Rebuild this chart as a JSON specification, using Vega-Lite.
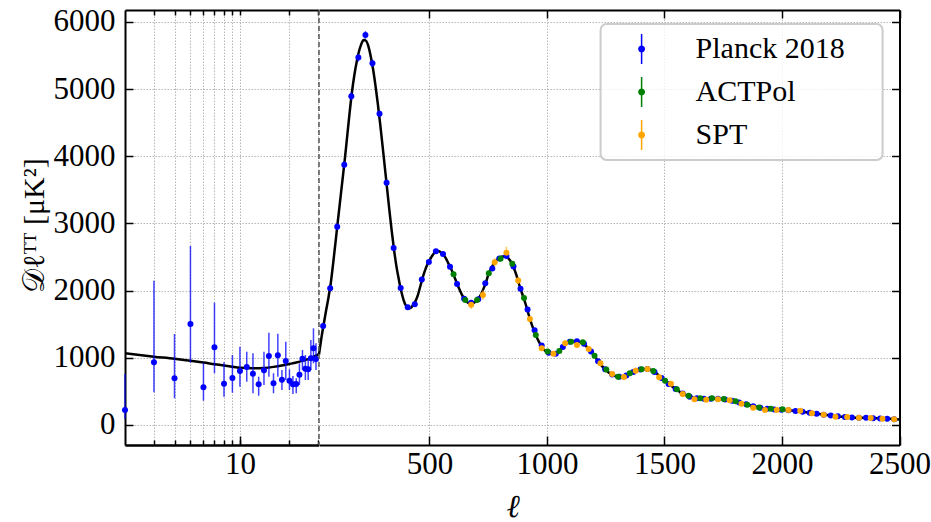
{
  "$schema": "https://vega.github.io/schema/vega-lite/v6.json",
  "background": "white",
  "padding": {"left": 19, "top": 5, "right": 5, "bottom": 12},
  "datasets": {
    "thlo": [
      {"l": 2, "d": 1067}, {"l": 3, "d": 1017}, {"l": 4, "d": 985}, {"l": 5, "d": 955}, {"l": 6, "d": 930},
      {"l": 7, "d": 905}, {"l": 8, "d": 885}, {"l": 9, "d": 866}, {"l": 10, "d": 852}, {"l": 12, "d": 845},
      {"l": 14, "d": 850}, {"l": 16, "d": 865}, {"l": 18, "d": 885}, {"l": 20, "d": 908}, {"l": 22, "d": 930},
      {"l": 24, "d": 955}, {"l": 26, "d": 980}, {"l": 28, "d": 1012}, {"l": 30, "d": 1050}
    ],
    "thhi": [
      {"l": 30, "d": 1050}, {"l": 40, "d": 1290}, {"l": 50, "d": 1500}, {"l": 60, "d": 1700}, {"l": 70, "d": 1890},
      {"l": 80, "d": 2110}, {"l": 90, "d": 2400}, {"l": 100, "d": 2710}, {"l": 110, "d": 3030}, {"l": 120, "d": 3340},
      {"l": 130, "d": 3650}, {"l": 140, "d": 3960}, {"l": 150, "d": 4300}, {"l": 160, "d": 4640}, {"l": 170, "d": 4950},
      {"l": 180, "d": 5200}, {"l": 190, "d": 5400}, {"l": 200, "d": 5560}, {"l": 210, "d": 5670}, {"l": 220, "d": 5730},
      {"l": 230, "d": 5720}, {"l": 240, "d": 5640}, {"l": 250, "d": 5490}, {"l": 260, "d": 5300}, {"l": 270, "d": 5060},
      {"l": 280, "d": 4790}, {"l": 290, "d": 4490}, {"l": 300, "d": 4170}, {"l": 310, "d": 3840}, {"l": 320, "d": 3510},
      {"l": 330, "d": 3180}, {"l": 340, "d": 2870}, {"l": 350, "d": 2590}, {"l": 360, "d": 2350}, {"l": 370, "d": 2160},
      {"l": 380, "d": 1990}, {"l": 390, "d": 1860}, {"l": 400, "d": 1775}, {"l": 410, "d": 1737}, {"l": 420, "d": 1745},
      {"l": 430, "d": 1785}, {"l": 440, "d": 1840}, {"l": 450, "d": 1925}, {"l": 460, "d": 2050}, {"l": 470, "d": 2180},
      {"l": 480, "d": 2290}, {"l": 490, "d": 2380}, {"l": 500, "d": 2450}, {"l": 510, "d": 2510}, {"l": 520, "d": 2560},
      {"l": 530, "d": 2585}, {"l": 540, "d": 2585}, {"l": 550, "d": 2565}, {"l": 560, "d": 2530}, {"l": 570, "d": 2480},
      {"l": 580, "d": 2410}, {"l": 590, "d": 2340}, {"l": 600, "d": 2260}, {"l": 610, "d": 2170}, {"l": 620, "d": 2080},
      {"l": 630, "d": 2000}, {"l": 640, "d": 1925}, {"l": 650, "d": 1870}, {"l": 660, "d": 1830}, {"l": 670, "d": 1810},
      {"l": 680, "d": 1805}, {"l": 690, "d": 1820}, {"l": 700, "d": 1850}, {"l": 710, "d": 1890}, {"l": 720, "d": 1950},
      {"l": 730, "d": 2030}, {"l": 740, "d": 2120}, {"l": 750, "d": 2230}, {"l": 760, "d": 2310}, {"l": 770, "d": 2380},
      {"l": 780, "d": 2430}, {"l": 790, "d": 2470}, {"l": 800, "d": 2495}, {"l": 810, "d": 2510}, {"l": 820, "d": 2510},
      {"l": 830, "d": 2500}, {"l": 840, "d": 2465}, {"l": 850, "d": 2410}, {"l": 860, "d": 2330}, {"l": 870, "d": 2230},
      {"l": 880, "d": 2110}, {"l": 890, "d": 2000}, {"l": 900, "d": 1900}, {"l": 910, "d": 1790}, {"l": 920, "d": 1670},
      {"l": 930, "d": 1550}, {"l": 940, "d": 1450}, {"l": 950, "d": 1360}, {"l": 960, "d": 1280}, {"l": 970, "d": 1210},
      {"l": 980, "d": 1150}, {"l": 990, "d": 1110}, {"l": 1000, "d": 1090}, {"l": 1010, "d": 1070}, {"l": 1020, "d": 1060},
      {"l": 1030, "d": 1062}, {"l": 1040, "d": 1075}, {"l": 1050, "d": 1095}, {"l": 1060, "d": 1130}, {"l": 1070, "d": 1170},
      {"l": 1080, "d": 1205}, {"l": 1090, "d": 1228}, {"l": 1100, "d": 1240}, {"l": 1120, "d": 1245}, {"l": 1140, "d": 1235},
      {"l": 1150, "d": 1225}, {"l": 1160, "d": 1200}, {"l": 1170, "d": 1160}, {"l": 1180, "d": 1120}, {"l": 1190, "d": 1085},
      {"l": 1200, "d": 1040}, {"l": 1210, "d": 990}, {"l": 1220, "d": 940}, {"l": 1230, "d": 895}, {"l": 1240, "d": 855},
      {"l": 1250, "d": 820}, {"l": 1260, "d": 790}, {"l": 1270, "d": 765}, {"l": 1280, "d": 745}, {"l": 1290, "d": 730},
      {"l": 1300, "d": 720}, {"l": 1310, "d": 715}, {"l": 1320, "d": 715}, {"l": 1330, "d": 720}, {"l": 1340, "d": 735},
      {"l": 1350, "d": 755}, {"l": 1360, "d": 775}, {"l": 1370, "d": 795}, {"l": 1380, "d": 810}, {"l": 1390, "d": 820},
      {"l": 1400, "d": 828}, {"l": 1420, "d": 833}, {"l": 1440, "d": 822}, {"l": 1450, "d": 808}, {"l": 1460, "d": 785},
      {"l": 1470, "d": 755}, {"l": 1480, "d": 722}, {"l": 1490, "d": 690}, {"l": 1500, "d": 660}, {"l": 1510, "d": 630},
      {"l": 1520, "d": 605}, {"l": 1530, "d": 580}, {"l": 1540, "d": 555}, {"l": 1550, "d": 530}, {"l": 1560, "d": 505},
      {"l": 1570, "d": 482}, {"l": 1580, "d": 462}, {"l": 1590, "d": 445}, {"l": 1600, "d": 430}, {"l": 1620, "d": 408},
      {"l": 1640, "d": 395}, {"l": 1660, "d": 390}, {"l": 1680, "d": 390}, {"l": 1700, "d": 392}, {"l": 1720, "d": 392},
      {"l": 1740, "d": 388}, {"l": 1760, "d": 380}, {"l": 1780, "d": 368}, {"l": 1800, "d": 352}, {"l": 1820, "d": 333},
      {"l": 1840, "d": 315}, {"l": 1860, "d": 296}, {"l": 1880, "d": 278}, {"l": 1900, "d": 263}, {"l": 1920, "d": 250},
      {"l": 1940, "d": 240}, {"l": 1960, "d": 233}, {"l": 1980, "d": 228}, {"l": 2000, "d": 224}, {"l": 2020, "d": 220},
      {"l": 2040, "d": 215}, {"l": 2060, "d": 208}, {"l": 2080, "d": 200}, {"l": 2100, "d": 191}, {"l": 2120, "d": 181},
      {"l": 2140, "d": 171}, {"l": 2160, "d": 162}, {"l": 2180, "d": 153}, {"l": 2200, "d": 144}, {"l": 2220, "d": 136},
      {"l": 2240, "d": 128}, {"l": 2260, "d": 121}, {"l": 2280, "d": 116}, {"l": 2300, "d": 112}, {"l": 2340, "d": 107},
      {"l": 2380, "d": 103}, {"l": 2420, "d": 98}, {"l": 2460, "d": 91}, {"l": 2500, "d": 82}
    ],
    "lowl": [
      {"l": 2, "d": 223, "lo": 90, "hi": 760}, {"l": 3, "d": 933, "lo": 487, "hi": 2148},
      {"l": 4, "d": 695, "lo": 397, "hi": 1355}, {"l": 5, "d": 1504, "lo": 928, "hi": 2665},
      {"l": 6, "d": 561, "lo": 362, "hi": 928}, {"l": 7, "d": 1157, "lo": 770, "hi": 1821},
      {"l": 8, "d": 615, "lo": 421, "hi": 933}, {"l": 9, "d": 700, "lo": 481, "hi": 1042},
      {"l": 10, "d": 804, "lo": 570, "hi": 1166}, {"l": 11, "d": 863, "lo": 645, "hi": 1091},
      {"l": 12, "d": 764, "lo": 472, "hi": 1067}, {"l": 13, "d": 606, "lo": 436, "hi": 719},
      {"l": 14, "d": 814, "lo": 596, "hi": 1091}, {"l": 15, "d": 1027, "lo": 719, "hi": 1374},
      {"l": 16, "d": 620, "lo": 472, "hi": 770}, {"l": 17, "d": 1037, "lo": 719, "hi": 1359},
      {"l": 18, "d": 675, "lo": 521, "hi": 819}, {"l": 19, "d": 953, "lo": 670, "hi": 1240},
      {"l": 20, "d": 660, "lo": 521, "hi": 829}, {"l": 21, "d": 605, "lo": 461, "hi": 729},
      {"l": 22, "d": 610, "lo": 472, "hi": 695}, {"l": 23, "d": 749, "lo": 596, "hi": 918},
      {"l": 24, "d": 987, "lo": 819, "hi": 1117}, {"l": 25, "d": 838, "lo": 670, "hi": 1042},
      {"l": 26, "d": 829, "lo": 670, "hi": 993}, {"l": 27, "d": 993, "lo": 819, "hi": 1265},
      {"l": 28, "d": 1142, "lo": 918, "hi": 1439}, {"l": 29, "d": 983, "lo": 819, "hi": 1216}
    ],
    "hil": [
      {"s": "Planck 2018", "l": 47.5, "d": 1474, "e": 40}, {"s": "Planck 2018", "l": 77.5, "d": 2035, "e": 45},
      {"s": "Planck 2018", "l": 107.5, "d": 2952, "e": 50}, {"s": "Planck 2018", "l": 137.5, "d": 3875, "e": 55},
      {"s": "Planck 2018", "l": 167.5, "d": 4893, "e": 60}, {"s": "Planck 2018", "l": 197.5, "d": 5469, "e": 60},
      {"s": "Planck 2018", "l": 227.5, "d": 5806, "e": 60}, {"s": "Planck 2018", "l": 257.5, "d": 5385, "e": 55},
      {"s": "Planck 2018", "l": 287.5, "d": 4635, "e": 50}, {"s": "Planck 2018", "l": 317.5, "d": 3607, "e": 45},
      {"s": "Planck 2018", "l": 347.5, "d": 2635, "e": 40}, {"s": "Planck 2018", "l": 377.5, "d": 2040, "e": 35},
      {"s": "Planck 2018", "l": 407.5, "d": 1752, "e": 30}, {"s": "Planck 2018", "l": 437.5, "d": 1797, "e": 30},
      {"s": "Planck 2018", "l": 467.5, "d": 2165, "e": 30}, {"s": "Planck 2018", "l": 497.5, "d": 2427, "e": 30},
      {"s": "Planck 2018", "l": 527.5, "d": 2586, "e": 30}, {"s": "Planck 2018", "l": 557.5, "d": 2546, "e": 30},
      {"s": "Planck 2018", "l": 587.5, "d": 2357, "e": 28}, {"s": "Planck 2018", "l": 617.5, "d": 2099, "e": 25},
      {"s": "Planck 2018", "l": 647.5, "d": 1880, "e": 22}, {"s": "Planck 2018", "l": 677.5, "d": 1820, "e": 22},
      {"s": "Planck 2018", "l": 707.5, "d": 1870, "e": 22}, {"s": "Planck 2018", "l": 737.5, "d": 2110, "e": 22},
      {"s": "Planck 2018", "l": 767.5, "d": 2330, "e": 22}, {"s": "Planck 2018", "l": 797.5, "d": 2480, "e": 22},
      {"s": "Planck 2018", "l": 827.5, "d": 2515, "e": 22}, {"s": "Planck 2018", "l": 857.5, "d": 2360, "e": 20},
      {"s": "Planck 2018", "l": 887.5, "d": 2030, "e": 20}, {"s": "Planck 2018", "l": 917.5, "d": 1720, "e": 18},
      {"s": "Planck 2018", "l": 947.5, "d": 1410, "e": 18}, {"s": "Planck 2018", "l": 977.5, "d": 1185, "e": 16},
      {"s": "Planck 2018", "l": 1007.5, "d": 1075, "e": 15}, {"s": "Planck 2018", "l": 1037.5, "d": 1060, "e": 15},
      {"s": "Planck 2018", "l": 1067.5, "d": 1160, "e": 15}, {"s": "Planck 2018", "l": 1097.5, "d": 1240, "e": 15},
      {"s": "Planck 2018", "l": 1127.5, "d": 1245, "e": 15}, {"s": "Planck 2018", "l": 1157.5, "d": 1210, "e": 14},
      {"s": "Planck 2018", "l": 1187.5, "d": 1095, "e": 14}, {"s": "Planck 2018", "l": 1217.5, "d": 950, "e": 13},
      {"s": "Planck 2018", "l": 1247.5, "d": 830, "e": 12}, {"s": "Planck 2018", "l": 1277.5, "d": 752, "e": 12},
      {"s": "Planck 2018", "l": 1307.5, "d": 718, "e": 11}, {"s": "Planck 2018", "l": 1337.5, "d": 735, "e": 11},
      {"s": "Planck 2018", "l": 1367.5, "d": 790, "e": 11}, {"s": "Planck 2018", "l": 1397.5, "d": 825, "e": 11},
      {"s": "Planck 2018", "l": 1427.5, "d": 832, "e": 11}, {"s": "Planck 2018", "l": 1457.5, "d": 790, "e": 11},
      {"s": "Planck 2018", "l": 1487.5, "d": 700, "e": 10}, {"s": "Planck 2018", "l": 1517.5, "d": 610, "e": 10},
      {"s": "Planck 2018", "l": 1547.5, "d": 535, "e": 10}, {"s": "Planck 2018", "l": 1577.5, "d": 468, "e": 10},
      {"s": "Planck 2018", "l": 1607.5, "d": 420, "e": 10}, {"s": "Planck 2018", "l": 1637.5, "d": 397, "e": 10},
      {"s": "Planck 2018", "l": 1667.5, "d": 390, "e": 10}, {"s": "Planck 2018", "l": 1697.5, "d": 392, "e": 10},
      {"s": "Planck 2018", "l": 1727.5, "d": 392, "e": 10}, {"s": "Planck 2018", "l": 1757.5, "d": 381, "e": 10},
      {"s": "Planck 2018", "l": 1787.5, "d": 362, "e": 10}, {"s": "Planck 2018", "l": 1817.5, "d": 335, "e": 10},
      {"s": "Planck 2018", "l": 1847.5, "d": 307, "e": 10}, {"s": "Planck 2018", "l": 1877.5, "d": 280, "e": 10},
      {"s": "Planck 2018", "l": 1907.5, "d": 258, "e": 10}, {"s": "Planck 2018", "l": 1937.5, "d": 242, "e": 10},
      {"s": "Planck 2018", "l": 1967.5, "d": 232, "e": 10}, {"s": "Planck 2018", "l": 1997.5, "d": 225, "e": 10},
      {"s": "Planck 2018", "l": 2027.5, "d": 219, "e": 10}, {"s": "Planck 2018", "l": 2057.5, "d": 209, "e": 10},
      {"s": "Planck 2018", "l": 2087.5, "d": 197, "e": 10}, {"s": "Planck 2018", "l": 2117.5, "d": 182, "e": 10},
      {"s": "Planck 2018", "l": 2147.5, "d": 168, "e": 10}, {"s": "Planck 2018", "l": 2177.5, "d": 154, "e": 10},
      {"s": "Planck 2018", "l": 2207.5, "d": 141, "e": 10}, {"s": "Planck 2018", "l": 2237.5, "d": 129, "e": 10},
      {"s": "Planck 2018", "l": 2267.5, "d": 119, "e": 10}, {"s": "Planck 2018", "l": 2297.5, "d": 113, "e": 10},
      {"s": "Planck 2018", "l": 2327.5, "d": 109, "e": 10}, {"s": "Planck 2018", "l": 2357.5, "d": 106, "e": 10},
      {"s": "Planck 2018", "l": 2387.5, "d": 102, "e": 10}, {"s": "Planck 2018", "l": 2417.5, "d": 98, "e": 10},
      {"s": "Planck 2018", "l": 2447.5, "d": 93, "e": 10}, {"s": "Planck 2018", "l": 2477.5, "d": 87, "e": 12},
      {"s": "ACTPol", "l": 602.5, "d": 2243, "e": 35}, {"s": "ACTPol", "l": 652.5, "d": 1861, "e": 30},
      {"s": "ACTPol", "l": 702.5, "d": 1860, "e": 30}, {"s": "ACTPol", "l": 752.5, "d": 2258, "e": 30},
      {"s": "ACTPol", "l": 802.5, "d": 2476, "e": 30}, {"s": "ACTPol", "l": 852.5, "d": 2401, "e": 28},
      {"s": "ACTPol", "l": 902.5, "d": 1891, "e": 25}, {"s": "ACTPol", "l": 952.5, "d": 1340, "e": 22},
      {"s": "ACTPol", "l": 1002.5, "d": 1095, "e": 20}, {"s": "ACTPol", "l": 1052.5, "d": 1102, "e": 20},
      {"s": "ACTPol", "l": 1102.5, "d": 1240, "e": 18}, {"s": "ACTPol", "l": 1152.5, "d": 1230, "e": 18},
      {"s": "ACTPol", "l": 1202.5, "d": 1030, "e": 16}, {"s": "ACTPol", "l": 1252.5, "d": 825, "e": 14},
      {"s": "ACTPol", "l": 1302.5, "d": 719, "e": 12}, {"s": "ACTPol", "l": 1352.5, "d": 770, "e": 12},
      {"s": "ACTPol", "l": 1402.5, "d": 829, "e": 12}, {"s": "ACTPol", "l": 1452.5, "d": 805, "e": 12},
      {"s": "ACTPol", "l": 1502.5, "d": 660, "e": 10}, {"s": "ACTPol", "l": 1552.5, "d": 531, "e": 10},
      {"s": "ACTPol", "l": 1602.5, "d": 436, "e": 10}, {"s": "ACTPol", "l": 1652.5, "d": 397, "e": 10},
      {"s": "ACTPol", "l": 1702.5, "d": 397, "e": 10}, {"s": "ACTPol", "l": 1752.5, "d": 388, "e": 10},
      {"s": "ACTPol", "l": 1802.5, "d": 353, "e": 10}, {"s": "ACTPol", "l": 1852.5, "d": 302, "e": 10},
      {"s": "ACTPol", "l": 1902.5, "d": 260, "e": 10}, {"s": "ACTPol", "l": 1952.5, "d": 243, "e": 10},
      {"s": "ACTPol", "l": 2002.5, "d": 234, "e": 10},
      {"s": "SPT", "l": 677.5, "d": 1790, "e": 60}, {"s": "SPT", "l": 727.5, "d": 1935, "e": 70},
      {"s": "SPT", "l": 777.5, "d": 2422, "e": 60}, {"s": "SPT", "l": 827.5, "d": 2565, "e": 90},
      {"s": "SPT", "l": 877.5, "d": 2150, "e": 50}, {"s": "SPT", "l": 927.5, "d": 1578, "e": 40},
      {"s": "SPT", "l": 977.5, "d": 1142, "e": 30}, {"s": "SPT", "l": 1027.5, "d": 1060, "e": 28},
      {"s": "SPT", "l": 1077.5, "d": 1216, "e": 28}, {"s": "SPT", "l": 1127.5, "d": 1191, "e": 25},
      {"s": "SPT", "l": 1177.5, "d": 1131, "e": 22}, {"s": "SPT", "l": 1227.5, "d": 918, "e": 20},
      {"s": "SPT", "l": 1277.5, "d": 759, "e": 18}, {"s": "SPT", "l": 1327.5, "d": 715, "e": 16},
      {"s": "SPT", "l": 1377.5, "d": 808, "e": 16}, {"s": "SPT", "l": 1427.5, "d": 834, "e": 15},
      {"s": "SPT", "l": 1477.5, "d": 710, "e": 14}, {"s": "SPT", "l": 1527.5, "d": 615, "e": 12},
      {"s": "SPT", "l": 1577.5, "d": 461, "e": 12}, {"s": "SPT", "l": 1627.5, "d": 382, "e": 10},
      {"s": "SPT", "l": 1677.5, "d": 377, "e": 10}, {"s": "SPT", "l": 1727.5, "d": 382, "e": 10},
      {"s": "SPT", "l": 1777.5, "d": 368, "e": 10}, {"s": "SPT", "l": 1827.5, "d": 317, "e": 10},
      {"s": "SPT", "l": 1877.5, "d": 258, "e": 10}, {"s": "SPT", "l": 1927.5, "d": 223, "e": 10},
      {"s": "SPT", "l": 1977.5, "d": 223, "e": 10}, {"s": "SPT", "l": 2027.5, "d": 223, "e": 10},
      {"s": "SPT", "l": 2077.5, "d": 213, "e": 10}, {"s": "SPT", "l": 2127.5, "d": 174, "e": 10},
      {"s": "SPT", "l": 2177.5, "d": 153, "e": 10}, {"s": "SPT", "l": 2227.5, "d": 124, "e": 10},
      {"s": "SPT", "l": 2277.5, "d": 119, "e": 10}, {"s": "SPT", "l": 2327.5, "d": 109, "e": 10},
      {"s": "SPT", "l": 2377.5, "d": 104, "e": 10}, {"s": "SPT", "l": 2427.5, "d": 94, "e": 10},
      {"s": "SPT", "l": 2477.5, "d": 85, "e": 10}
    ]
  },
  "hconcat": [
    {
      "width": 193.4,
      "height": 435,
      "layer": [
        {
          "data": {"name": "thlo"},
          "mark": {"type": "line", "color": "black", "strokeWidth": 2.5, "interpolate": "monotone"},
          "encoding": {
            "x": {"field": "l", "type": "quantitative",
                  "scale": {"type": "log", "domain": [2, 30], "nice": false},
                  "axis": {"orient": "bottom", "values": [10], "format": "d", "tickSize": -9, "labelPadding": 13, "grid": false, "title": null}},
            "y": {"field": "d", "type": "quantitative",
                  "scale": {"domain": [-298, 6178], "nice": false, "zero": false},
                  "axis": {"orient": "left", "values": [0, 1000, 2000, 3000, 4000, 5000, 6000], "format": "d", "tickSize": -8, "labelPadding": 18, "grid": true,
                           "title": "𝒟ℓᵀᵀ [μK²]", "titleX": -91, "titleY": 215, "titleAngle": -90, "titleBaseline": "middle", "titleAlign": "center", "titleFontSize": 30}}
          }
        },
        {
          "data": {"name": "lowl"},
          "mark": {"type": "rule", "color": "#0000ff", "strokeWidth": 1.5, "opacity": 0.75},
          "encoding": {
            "x": {"field": "l", "type": "quantitative",
                  "axis": {"orient": "bottom", "values": [3, 4, 5, 6, 7, 8, 9, 10, 20, 30], "tickSize": -5, "labels": false, "grid": true, "title": null}},
            "y": {"field": "lo", "type": "quantitative", "axis": null},
            "y2": {"field": "hi"}
          }
        },
        {
          "data": {"name": "lowl"},
          "mark": {"type": "point", "filled": true, "color": "#0000ff", "size": 36, "opacity": 1},
          "encoding": {
            "x": {"field": "l", "type": "quantitative",
                  "axis": {"orient": "top", "values": [3, 4, 5, 6, 7, 8, 9, 10, 20, 30], "tickSize": -5, "labels": false, "grid": false, "title": null}},
            "y": {"field": "d", "type": "quantitative", "axis": null}
          }
        }
      ],
      "resolve": {"axis": {"x": "independent", "y": "independent"}}
    },
    {
      "width": 580.5,
      "height": 435,
      "layer": [
        {
          "data": {"name": "thhi"},
          "mark": {"type": "line", "color": "black", "strokeWidth": 2.5, "interpolate": "monotone"},
          "encoding": {
            "x": {"field": "l", "type": "quantitative",
                  "scale": {"domain": [30, 2500], "nice": false, "zero": false},
                  "axis": {"orient": "bottom", "values": [500, 1000, 1500, 2000, 2500], "format": "d", "tickSize": -9, "labelPadding": 13, "grid": true,
                           "title": "ℓ", "titleX": 193.6, "titleY": 71, "titleBaseline": "alphabetic", "titleFontSize": 32, "titleFontStyle": "italic"}},
            "y": {"field": "d", "type": "quantitative",
                  "scale": {"domain": [-298, 6178], "nice": false, "zero": false},
                  "axis": {"orient": "right", "values": [0, 1000, 2000, 3000, 4000, 5000, 6000], "tickSize": -8, "labels": false, "grid": true, "title": null}}
          }
        },
        {
          "data": {"values": [{}]},
          "mark": {"type": "rule", "color": "#555555", "strokeWidth": 1.5, "strokeDash": [5, 3]},
          "encoding": {"x": {"datum": 30, "type": "quantitative", "axis": null}}
        },
        {
          "data": {"name": "hil"},
          "mark": {"type": "errorbar", "thickness": 1.5, "opacity": 0.6},
          "encoding": {
            "x": {"field": "l", "type": "quantitative",
                  "axis": {"orient": "top", "values": [500, 1000, 1500, 2000, 2500], "tickSize": -8, "labels": false, "grid": false, "title": null}},
            "y": {"field": "d", "type": "quantitative", "axis": null},
            "yError": {"field": "e"},
            "color": {"field": "s", "type": "nominal",
                      "scale": {"domain": ["Planck 2018", "ACTPol", "SPT"], "range": ["#0000ff", "#008000", "#ffa500"]},
                      "legend": null}
          }
        },
        {
          "data": {"name": "hil"},
          "mark": {"type": "point", "filled": true, "size": 36, "opacity": 1},
          "encoding": {
            "x": {"field": "l", "type": "quantitative", "axis": null},
            "y": {"field": "d", "type": "quantitative", "axis": null},
            "color": {"field": "s", "type": "nominal",
                      "scale": {"domain": ["Planck 2018", "ACTPol", "SPT"], "range": ["#0000ff", "#008000", "#ffa500"]},
                      "legend": {"title": "x", "titleOrient": "right", "titleColor": "transparent", "titleFontSize": 8, "titlePadding": 24,
                                 "orient": "none", "legendX": 281.6, "legendY": 14,
                                 "labelFont": "Liberation Serif", "labelFontSize": 30, "labelColor": "black",
                                 "labelOffset": 39, "labelLimit": 400,
                                 "symbolType": "M-0.05,-1H0.05V1H-0.05Z M0.23,0A0.23,0.23,0,1,1,-0.23,0A0.23,0.23,0,1,1,0.23,0Z",
                                 "symbolSize": 900, "symbolOffset": 16, "symbolStrokeWidth": 0, "symbolOpacity": 1,
                                 "padding": 10, "rowPadding": 13,
                                 "strokeColor": "#cccccc", "fillColor": "rgba(255,255,255,0.8)", "cornerRadius": 6}}
          }
        }
      ],
      "resolve": {"axis": {"x": "independent", "y": "independent"}, "scale": {"color": "independent"}, "legend": {"color": "independent"}}
    }
  ],
  "spacing": 0,
  "bounds": "flush",
  "resolve": {"scale": {"x": "independent", "y": "independent"}},
  "config": {
    "view": {"stroke": null},
    "font": "Liberation Serif",
    "axis": {
      "labelFont": "Liberation Serif", "labelFontSize": 31, "labelColor": "black",
      "domainColor": "black", "domainWidth": 2, "tickColor": "black", "tickWidth": 1.5,
      "gridColor": "#b0b0b0", "gridDash": [1.5, 1.5], "gridWidth": 0.9,
      "titleFont": "Liberation Serif", "titleFontWeight": "normal", "titleColor": "black",
      "labelFlush": false, "labelOverlap": false
    },
    "legend": {"strokeWidth": 2}
  }
}
